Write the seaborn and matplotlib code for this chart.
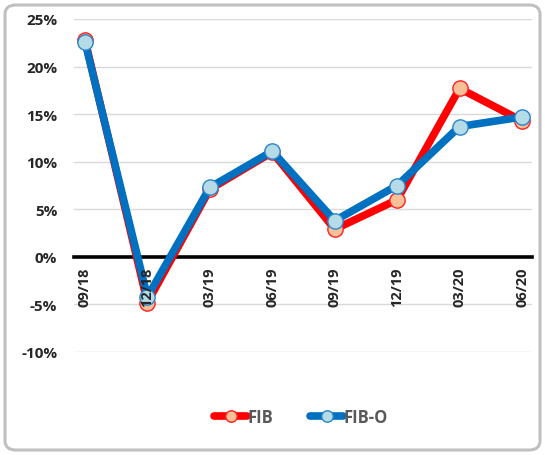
import matplotlib
matplotlib.use("Agg")
import matplotlib.pyplot as plt
from matplotlib.patches import FancyBboxPatch
from matplotlib.ticker import PercentFormatter
import pandas as pd
import seaborn as sns

periods = ["09/18", "12/18", "03/19", "06/19", "09/19", "12/19", "03/20", "06/20"]
fib = [22.8, -4.8, 7.1, 11.0, 2.9, 6.0, 17.7, 14.3]
fib_o = [22.6, -4.2, 7.3, 11.1, 3.8, 7.5, 13.7, 14.7]

df = pd.DataFrame({"pos": range(len(periods)), "period": periods,
                   "FIB": fib, "FIB-O": fib_o})

sns.set_style("white")
plt.rcParams["font.family"] = ["Open Sans", "DejaVu Sans"]
plt.rcParams["axes.unicode_minus"] = False

fig = plt.figure(figsize=(5.45, 4.56), dpi=100)
ax = fig.add_axes([74 / 545, 1 - 353 / 456, (532 - 74) / 545, (353 - 20) / 456])

# rounded chart border
fig.patches.append(FancyBboxPatch((5 / 545, 5 / 456), 535 / 545, 445 / 456,
                                  boxstyle="round,pad=0,rounding_size=0.02",
                                  transform=fig.transFigure, fill=False,
                                  edgecolor="#c0c0c0", linewidth=2.2))

sns.lineplot(data=df, x="pos", y="FIB", ax=ax, color="#ff0000", linewidth=5.5,
             marker="o", markersize=11, markerfacecolor="#f8c097",
             markeredgecolor="#ff2020", markeredgewidth=1, label="FIB")
sns.lineplot(data=df, x="pos", y="FIB-O", ax=ax, color="#0070c0", linewidth=5.5,
             marker="o", markersize=11, markerfacecolor="#b4dbe6",
             markeredgecolor="#2a85cc", markeredgewidth=1, label="FIB-O")

ax.set_ylim(-10, 25)
ax.set_xlim(-0.176, 7.16)
ax.set_yticks(range(-10, 30, 5))
ax.yaxis.set_major_formatter(PercentFormatter(decimals=0))
ax.grid(axis="y", color="#d9d9d9", linewidth=1)
ax.set_axisbelow(True)
ax.xaxis.set_zorder(3)

for s in ["top", "right", "left"]:
    ax.spines[s].set_visible(False)
ax.spines["bottom"].set_position(("data", 0))
ax.spines["bottom"].set_linewidth(2.6)
ax.spines["bottom"].set_color("black")
ax.spines["bottom"].set_zorder(1)

ax.set_xticks(range(len(periods)))
ax.set_xticklabels(periods, rotation=90, fontweight="bold", fontsize=10.5)
ax.set_xticks([i - 0.16 for i in range(len(periods))], minor=True)
ax.tick_params(axis="x", which="major", length=0, pad=7)
ax.tick_params(axis="x", which="minor", length=4, width=2, color="black", direction="out")
ax.tick_params(axis="y", length=0, pad=12)
for t in ax.get_yticklabels():
    t.set_fontweight("bold")
    t.set_fontsize(11)
ax.set_xlabel("")
ax.set_ylabel("")

ax.get_legend().remove()
handles, labels = ax.get_legend_handles_labels()
leg = fig.legend(handles, labels, loc="center", bbox_to_anchor=(0.552, 1 - 418 / 456),
                 ncol=2, frameon=False, handlelength=2.0, handletextpad=0,
                 columnspacing=2.2, markerscale=0.75,
                 prop={"weight": "bold", "size": 12})
for t in leg.get_texts():
    t.set_color("#595959")

fig.savefig("out.png", dpi=100)
